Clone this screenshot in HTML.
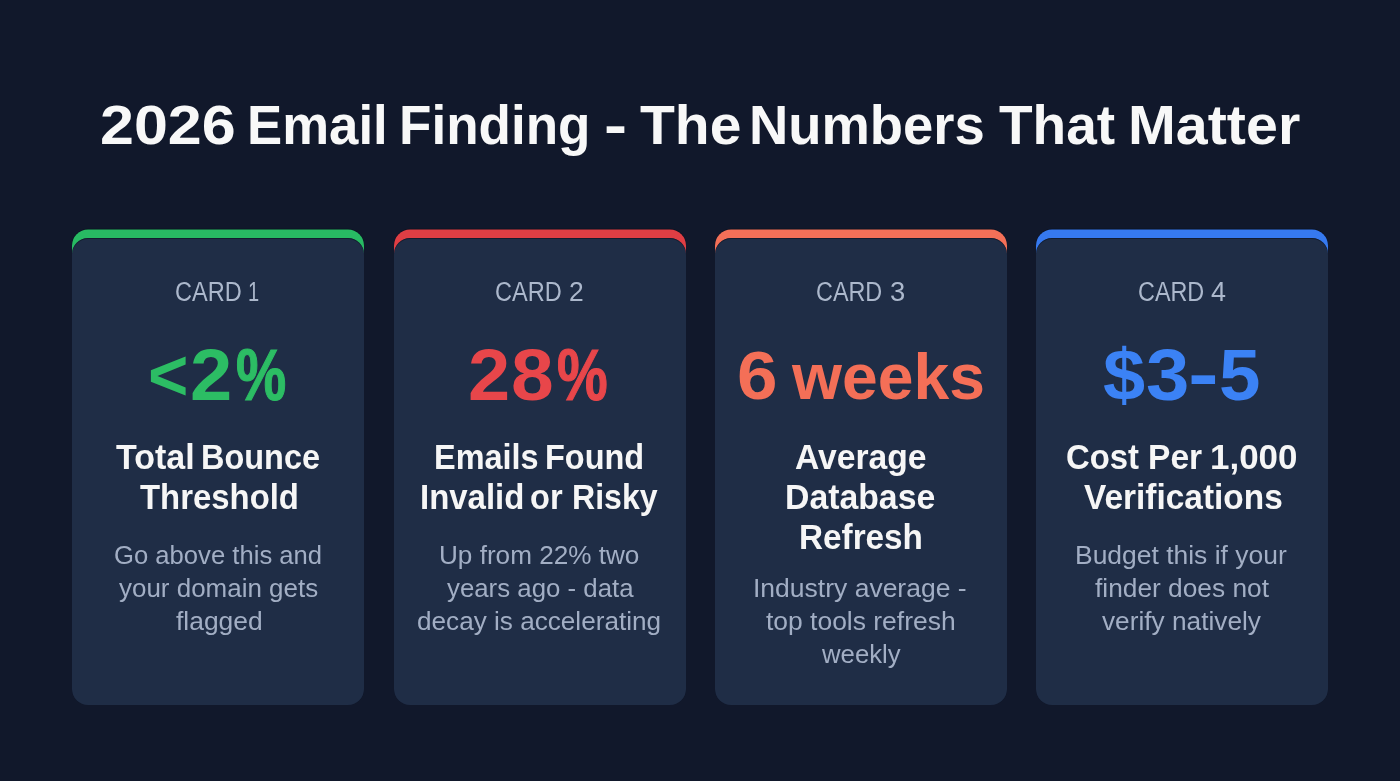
<!DOCTYPE html>
<html lang="en">
<head>
<meta charset="utf-8">
<title>2026 Email Finding - The Numbers That Matter</title>
<style>
*,*::before{box-sizing:border-box;margin:0;padding:0}
html,body{width:1400px;height:781px;overflow:hidden}
body{position:relative;font-family:"Liberation Sans",Arial,sans-serif;color:#fff;
background:#11182b}
.card{position:static}
.card::before{content:"";position:absolute;left:inherit;top:237.5px;width:292px;height:467.5px;background:#1f2d46;border-radius:16px;box-shadow:inset 0 1px 0 rgba(4,8,20,.45),0 -8.4px 0 0 var(--s),0 -9.2px 0 0 rgba(4,8,20,.5)}
.c1{color:#2cbd64;--s:#28ba63}
.c2{color:#e8464a;--s:#df3e44}
.c3{color:#f46f57;--s:#f47058}
.c4{color:#3b82f5;--s:#3679ef}
span{position:absolute;display:block;white-space:pre;transform-origin:0 0}
h1,h2,p{font-weight:400;font-size:0}
.h span{font-weight:700;color:#f8f8f8}
.lab span{color:#acb8cc}
.num span{font-weight:700}
.ttl span{font-weight:700;color:#f6f6f6}
.dsc span{color:#a2aec4}
</style>
</head>
<body>
<h1 class="h"><span id="p0" style="left:99.80px;top:91px;font-size:56px;line-height:67px;transform:scaleX(1.0893)">2026</span> <span id="p1" style="left:247.00px;top:91px;font-size:56px;line-height:67px;transform:scaleX(0.9416)">Email</span> <span id="p2" style="left:399.00px;top:91px;font-size:56px;line-height:67px;transform:scaleX(0.9473)">Finding</span> <span id="p3" style="left:604.09px;top:91px;font-size:56px;line-height:67px;transform:scaleX(1.2359)">-</span> <span id="p4" style="left:639.87px;top:91px;font-size:56px;line-height:67px;transform:scaleX(1.0188)">The</span> <span id="p5" style="left:749.43px;top:91px;font-size:56px;line-height:67px;transform:scaleX(0.9712)">Numbers</span> <span id="p6" style="left:998.51px;top:91px;font-size:56px;line-height:67px;transform:scaleX(0.9820)">That</span> <span id="p7" style="left:1128.35px;top:91px;font-size:56px;line-height:67px;transform:scaleX(1.0249)">Matter</span></h1>
<section class="card c1" style="left:72px">
<div class="lab"><span id="p8" style="left:175.10px;top:275px;font-size:27px;line-height:34px;transform:scaleX(0.8720)">CARD</span> <span id="p9" style="left:247.80px;top:275px;font-size:27px;line-height:34px;transform:scaleX(0.7454)">1</span></div>
<div class="num"><span id="p10" style="left:147.79px;top:333px;font-size:72px;line-height:84px;transform:scaleX(0.9612)">&lt;</span><span id="p11" style="left:189.96px;top:333px;font-size:72px;line-height:84px;transform:scaleX(1.0548)">2</span><span id="p12" style="left:236.44px;top:333px;font-size:72px;line-height:84px;transform:scaleX(0.7839);-webkit-text-stroke:1.2px">%</span></div>
<h2 class="ttl"><span id="p13" style="left:116.10px;top:436px;font-size:34.5px;line-height:42px;transform:scaleX(0.9852)">Total</span> <span id="p14" style="left:201.30px;top:436px;font-size:34.5px;line-height:42px;transform:scaleX(0.9406)">Bounce</span> <span id="p15" style="left:139.80px;top:476px;font-size:34.5px;line-height:42px;transform:scaleX(0.9531)">Threshold</span></h2>
<p class="dsc"><span id="p16" style="left:113.50px;top:538px;font-size:26.5px;line-height:34px;transform:scaleX(0.9675)">Go above this and</span> <span id="p17" style="left:119.40px;top:571px;font-size:26.5px;line-height:34px;transform:scaleX(0.9797)">your domain gets</span> <span id="p18" style="left:175.80px;top:604px;font-size:26.5px;line-height:34px;transform:scaleX(0.9974)">flagged</span></p>
</section>
<section class="card c2" style="left:393.5px">
<div class="lab"><span id="p19" style="left:495.00px;top:275px;font-size:27px;line-height:34px;transform:scaleX(0.8720)">CARD</span> <span id="p20" style="left:569.00px;top:275px;font-size:27px;line-height:34px;transform:scaleX(0.9797)">2</span></div>
<div class="num"><span id="p21" style="left:468.32px;top:333px;font-size:72px;line-height:84px;transform:scaleX(1.0530)">2</span><span id="p22" style="left:510.70px;top:333px;font-size:72px;line-height:84px;transform:scaleX(1.0662)">8</span><span id="p23" style="left:557.25px;top:333px;font-size:72px;line-height:84px;transform:scaleX(0.7907);-webkit-text-stroke:1.2px">%</span></div>
<h2 class="ttl"><span id="p24" style="left:434.00px;top:436px;font-size:34.5px;line-height:42px;transform:scaleX(0.9405)">Emails</span> <span id="p25" style="left:545.00px;top:436px;font-size:34.5px;line-height:42px;transform:scaleX(0.9414)">Found</span> <span id="p26" style="left:419.70px;top:476px;font-size:34.5px;line-height:42px;transform:scaleX(0.9549)">Invalid</span> <span id="p27" style="left:530.20px;top:476px;font-size:34.5px;line-height:42px;transform:scaleX(0.9443)">or</span> <span id="p28" style="left:571.80px;top:476px;font-size:34.5px;line-height:42px;transform:scaleX(0.9293)">Risky</span></h2>
<p class="dsc"><span id="p29" style="left:438.62px;top:538px;font-size:26.5px;line-height:34px;transform:scaleX(0.9859)">Up from 22% two</span> <span id="p30" style="left:446.50px;top:571px;font-size:26.5px;line-height:34px;transform:scaleX(0.9741)">years ago - data</span> <span id="p31" style="left:417.10px;top:604px;font-size:26.5px;line-height:34px;transform:scaleX(0.9864)">decay is accelerating</span></p>
</section>
<section class="card c3" style="left:715px">
<div class="lab"><span id="p32" style="left:816.00px;top:275px;font-size:27px;line-height:34px;transform:scaleX(0.8659)">CARD</span> <span id="p33" style="left:890.02px;top:275px;font-size:27px;line-height:34px;transform:scaleX(1.0152)">3</span></div>
<div class="num"><span id="p34" style="left:736.90px;top:335px;font-size:68px;line-height:80px;transform:scaleX(1.0709)">6</span> <span id="p35" style="left:791.98px;top:338px;font-size:65px;line-height:77px;transform:scaleX(0.9885)">weeks</span></div>
<h2 class="ttl"><span id="p36" style="left:795.23px;top:436px;font-size:34.5px;line-height:42px;transform:scaleX(0.9753)">Average</span> <span id="p37" style="left:784.70px;top:476px;font-size:34.5px;line-height:42px;transform:scaleX(0.9792)">Database</span> <span id="p38" style="left:799.30px;top:516px;font-size:34.5px;line-height:42px;transform:scaleX(0.9649)">Refresh</span></h2>
<p class="dsc"><span id="p39" style="left:753.00px;top:571px;font-size:26.5px;line-height:34px;transform:scaleX(1.0001)">Industry average -</span> <span id="p40" style="left:766.00px;top:604px;font-size:26.5px;line-height:34px;transform:scaleX(0.9979)">top tools refresh</span> <span id="p41" style="left:821.55px;top:637px;font-size:26.5px;line-height:34px;transform:scaleX(0.9707)">weekly</span></p>
</section>
<section class="card c4" style="left:1036px">
<div class="lab"><span id="p42" style="left:1137.80px;top:275px;font-size:27px;line-height:34px;transform:scaleX(0.8659)">CARD</span> <span id="p43" style="left:1210.63px;top:275px;font-size:27px;line-height:34px;transform:scaleX(0.9984)">4</span></div>
<div class="num"><span id="p44" style="left:1103.00px;top:333px;font-size:72px;line-height:84px;transform:scaleX(1.0515)">$</span><span id="p45" style="left:1145.78px;top:333px;font-size:72px;line-height:84px;transform:scaleX(1.0822)">3</span><span id="p46" style="left:1188.05px;top:331px;font-size:72px;line-height:84px;transform:scaleX(1.2827)">-</span><span id="p47" style="left:1219.37px;top:333px;font-size:72px;line-height:84px;transform:scaleX(1.0354)">5</span></div>
<h2 class="ttl"><span id="p48" style="left:1066.20px;top:436px;font-size:34.5px;line-height:42px;transform:scaleX(0.9527)">Cost</span> <span id="p49" style="left:1147.90px;top:436px;font-size:34.5px;line-height:42px;transform:scaleX(0.9727)">Per</span> <span id="p50" style="left:1210.30px;top:436px;font-size:34.5px;line-height:42px;transform:scaleX(1.0131)">1,000</span> <span id="p51" style="left:1083.60px;top:476px;font-size:34.5px;line-height:42px;transform:scaleX(0.9690)">Verifications</span></h2>
<p class="dsc"><span id="p52" style="left:1075.10px;top:538px;font-size:26.5px;line-height:34px;transform:scaleX(0.9980)">Budget this if your</span> <span id="p53" style="left:1095.00px;top:571px;font-size:26.5px;line-height:34px;transform:scaleX(0.9926)">finder does not</span> <span id="p54" style="left:1102.00px;top:604px;font-size:26.5px;line-height:34px;transform:scaleX(0.9903)">verify natively</span></p>
</section>
</body>
</html>
